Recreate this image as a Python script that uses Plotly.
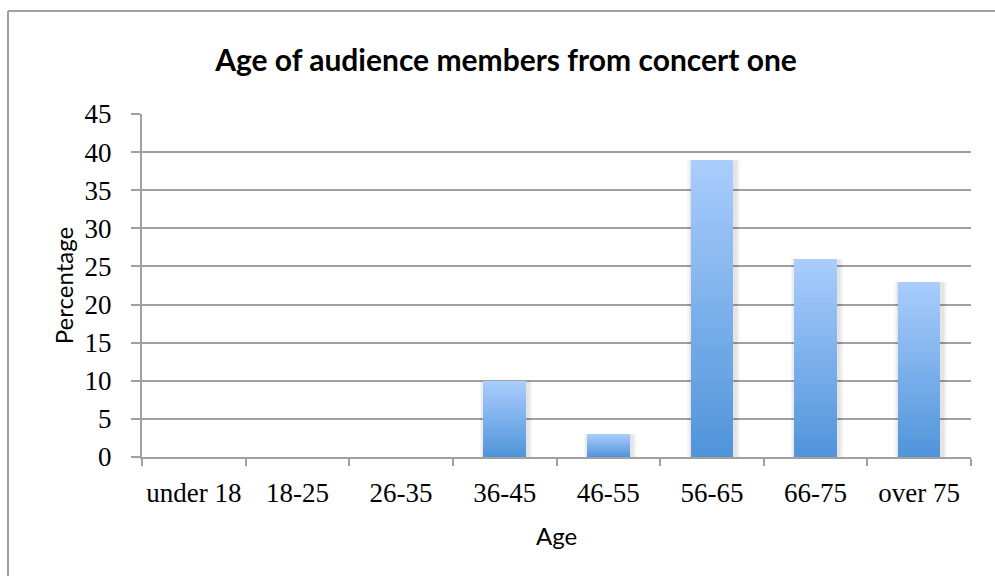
import plotly.graph_objects as go

# Survey data: share of the audience in each age band (percent)
age_groups = ["under 18", "18-25", "26-35", "36-45", "46-55", "56-65", "66-75", "over 75"]
percentages = [0, 0, 0, 10, 3, 39, 26, 23]
y_ticks = [0, 5, 10, 15, 20, 25, 30, 35, 40, 45]

# Canvas and plot-area geometry (pixels)
W, H = 995, 576
M_L, M_R, M_T, M_B = 142, 24, 114, 119
plot_w = W - M_L - M_R
plot_h = H - M_T - M_B
Y_MAX = 45

px_x = len(age_groups) / plot_w      # category units per pixel
px_y = Y_MAX / plot_h                 # data units per pixel

GRID = "#a0a0a0"
BAR_W = 0.41
TOP_RGB = (170, 205, 253)
BOTTOM_RGB = (80, 148, 218)
N_STEPS = 60

SERIF = "Liberation Serif, DejaVu Serif, serif"
SANS = "Lato, Open Sans, sans-serif"


def blend(f):
    r = [round(b + (t - b) * f) for t, b in zip(TOP_RGB, BOTTOM_RGB)]
    return "rgb({},{},{})".format(*r)


fig = go.Figure()

# Soft drop shadow behind the bars (a few translucent layers)
for grow in (5, 3.5, 2):
    w = BAR_W + 2 * grow * px_x
    fig.add_bar(
        x=age_groups,
        y=[v - (1.5 - grow * 0.3) * px_y if v > 0 else 0 for v in percentages],
        base=0,
        width=w,
        offset=-w / 2 + 1.5 * px_x,
        marker=dict(color="rgba(0,0,0,0.035)", line=dict(width=0)),
        hoverinfo="skip",
        showlegend=False,
    )

# Vertical gradient fill: nested bars, each shorter one a shade darker
for k in range(N_STEPS, 0, -1):
    f = k / N_STEPS
    fig.add_bar(
        x=age_groups,
        y=[v * f for v in percentages],
        base=0,
        width=BAR_W,
        offset=-BAR_W / 2,
        marker=dict(color=blend((k - 0.5) / N_STEPS), line=dict(width=0)),
        hoverinfo="skip",
        showlegend=False,
    )

# Outer chart frame
x_left = (8 - M_L) / plot_w
y_top = (M_T + plot_h - 11) / plot_h
fig.add_shape(type="line", xref="paper", yref="paper",
              x0=x_left, x1=1.3, y0=y_top, y1=y_top,
              line=dict(color=GRID, width=2))
fig.add_shape(type="line", xref="paper", yref="paper",
              x0=x_left, x1=x_left, y0=y_top, y1=-0.5,
              line=dict(color=GRID, width=2))

fig.update_layout(
    width=W, height=H,
    margin=dict(l=M_L, r=M_R, t=M_T, b=M_B, pad=0, autoexpand=False),
    paper_bgcolor="white", plot_bgcolor="white",
    barmode="overlay",
    bargap=0,
    showlegend=False,
    title=dict(
        text="<b>Age of audience members from concert one</b>",
        x=506 / W, xref="container", xanchor="center",
        y=1 - 60 / H, yref="container", yanchor="middle",
        font=dict(family=SANS, size=30, color="black"),
    ),
    xaxis=dict(
        type="category",
        categoryorder="array", categoryarray=age_groups,
        range=[-0.5, len(age_groups) - 0.5],
        automargin=False,
        tickangle=0,
        tickson="boundaries",
        ticks="outside", ticklen=7, tickwidth=2, tickcolor=GRID,
        showline=True, linecolor=GRID, linewidth=2,
        showgrid=False, zeroline=False,
        tickfont=dict(family=SERIF, size=27, color="black"),
        ticklabelstandoff=11,
        title=dict(text="Age", standoff=21,
                   font=dict(family=SANS, size=24, color="black")),
    ),
    yaxis=dict(
        range=[0, Y_MAX],
        automargin=False,
        tickmode="array", tickvals=y_ticks, ticktext=[str(t) for t in y_ticks],
        ticks="outside", ticklen=9, tickwidth=2, tickcolor=GRID,
        showline=True, linecolor=GRID, linewidth=2,
        showgrid=True, gridcolor=GRID, gridwidth=2,
        zeroline=False,
        tickfont=dict(family=SERIF, size=27, color="black"),
        ticklabelstandoff=14,
        title=dict(text="Percentage", standoff=4,
                   font=dict(family=SANS, size=24, color="black")),
    ),
)

fig.write_html("out.html")
